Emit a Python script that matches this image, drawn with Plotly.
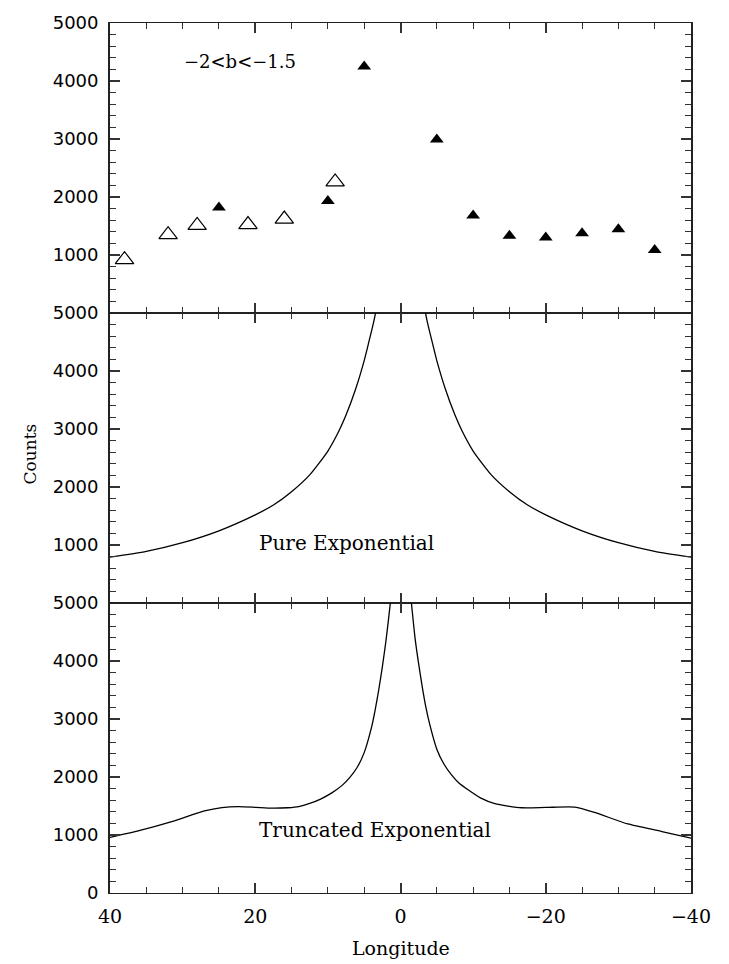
import plotly.graph_objects as go
from plotly.subplots import make_subplots

# ---- Top panel data (-2<b<-1.5) ----
lon_open = [38, 32, 28, 21, 16, 9]
cnt_open = [920, 1350, 1510, 1525, 1620, 2260]
lon_filled = [25, 10, 5, -5, -10, -15, -20, -25, -30, -35]
cnt_filled = [1820, 1930, 4250, 2990, 1680, 1330, 1300, 1375, 1445, 1085]

# ---- Middle panel: pure exponential model ----
pure_lon_left = [40, 35, 30, 25, 20, 17.5, 15, 12.5, 10, 8.5, 7.5, 6.2, 5, 4.4, 3.6, 2.6]
pure_cnt_left = [790, 890, 1040, 1245, 1520, 1690, 1920, 2210, 2620, 2960, 3240, 3680, 4180, 4480, 4900, 5600]
pure_lon_right = [-2.6, -3.6, -4.4, -5, -6.2, -7.5, -8.5, -10, -12.5, -15, -17.5, -20, -25, -30, -35, -40]
pure_cnt_right = [5600, 4900, 4480, 4180, 3680, 3240, 2960, 2620, 2210, 1920, 1690, 1520, 1245, 1040, 890, 790]

# ---- Bottom panel: truncated exponential model ----
trunc_lon_left = [40, 36, 31.5, 27, 24.6, 22.3, 20, 17.7, 15.5, 14, 12.5, 11, 9.4, 8, 7, 6, 5, 4, 3.5, 3, 2.5, 2, 1.4, 1.0]
trunc_cnt_left = [960, 1075, 1230, 1415, 1472, 1490, 1478, 1462, 1470, 1490, 1545, 1620, 1730, 1860, 1990, 2160, 2420, 2850, 3150, 3500, 3900, 4350, 5000, 5600]
trunc_lon_right = [-1.0, -1.5, -2, -2.5, -3, -3.5, -4, -5, -6, -7, -8, -9.4, -11, -13, -16.7, -20, -24, -26.7, -31.3, -36, -40]
trunc_cnt_right = [5600, 5000, 4400, 3950, 3550, 3200, 2920, 2480, 2220, 2040, 1900, 1770, 1640, 1540, 1470, 1475, 1480, 1390, 1190, 1060, 945]

x_ticks = [40, 20, 0, -20, -40]
x_tick_text = ["40", "20", "0", "\u221220", "\u221240"]
y_ticks_upper = [1000, 2000, 3000, 4000, 5000]
y_ticks_bottom = [0, 1000, 2000, 3000, 4000, 5000]

fig = make_subplots(rows=3, cols=1, shared_xaxes=True, vertical_spacing=0)

fig.add_trace(go.Scatter(x=lon_open, y=cnt_open, mode="markers",
                         marker=dict(symbol="triangle-up-open", size=16, color="black",
                                     line=dict(width=1.2, color="black")),
                         showlegend=False), row=1, col=1)
fig.add_trace(go.Scatter(x=lon_filled, y=cnt_filled, mode="markers",
                         marker=dict(symbol="triangle-up", size=12, color="black"),
                         showlegend=False), row=1, col=1)

for xs, ys, r in [(pure_lon_left, pure_cnt_left, 2), (pure_lon_right, pure_cnt_right, 2),
                  (trunc_lon_left, trunc_cnt_left, 3), (trunc_lon_right, trunc_cnt_right, 3)]:
    fig.add_trace(go.Scatter(x=xs, y=ys, mode="lines",
                             line=dict(color="black", width=1.3, shape="spline", smoothing=0.6),
                             showlegend=False), row=r, col=1)

axis_common = dict(showline=True, linecolor="#222", mirror="ticks",
                   ticks="inside", tickcolor="#333", tickwidth=1.5, ticklen=10,
                   showgrid=False, zeroline=False)

for r in (1, 2, 3):
    fig.update_xaxes(range=[40, -40], tickvals=x_ticks, ticktext=x_tick_text,
                     linewidth=1.1,
                     minor=dict(dtick=5, tick0=0, ticks="inside", ticklen=6, tickcolor="#333", tickwidth=1.2),
                     showticklabels=(r == 3),
                     tickfont=dict(family="DejaVu Serif", size=19, color="black"),
                     ticklabelstandoff=6,
                     row=r, col=1, **axis_common)
    fig.update_yaxes(range=[0, 5000], tickvals=(y_ticks_bottom if r == 3 else y_ticks_upper),
                     linewidth=1.8,
                     minor=dict(dtick=200, tick0=0, ticks="inside", ticklen=6, tickcolor="#333", tickwidth=1.2),
                     tickfont=dict(family="DejaVu Sans", size=18, color="black"),
                     ticklabelstandoff=6,
                     row=r, col=1, **axis_common)

fig.add_annotation(x=22.1, y=4330, xref="x", yref="y", text="\u22122<b<\u22121.5",
                   showarrow=False, font=dict(family="DejaVu Serif", size=18, color="black"))
fig.add_annotation(x=19.8, y=1030, xref="x2", yref="y2", text="Pure Exponential", xanchor="left",
                   showarrow=False, font=dict(family="DejaVu Serif", size=20, color="black"))
fig.add_annotation(x=19.8, y=1080, xref="x3", yref="y3", text="Truncated Exponential", xanchor="left",
                   showarrow=False, font=dict(family="DejaVu Serif", size=20, color="black"))
fig.add_annotation(x=-0.138, y=0.505, xref="paper", yref="paper", text="Counts", textangle=-90,
                   xanchor="center", yanchor="middle",
                   showarrow=False, font=dict(family="DejaVu Serif", size=17, color="black"))
fig.add_annotation(x=0.5, y=-0.063, xref="paper", yref="paper", text="Longitude",
                   xanchor="center", yanchor="middle",
                   showarrow=False, font=dict(family="DejaVu Serif", size=19, color="black"))

fig.update_layout(width=729, height=964, margin=dict(l=110, r=38, t=14, b=71),
                  paper_bgcolor="white", plot_bgcolor="white")

fig.write_html("out.html")
